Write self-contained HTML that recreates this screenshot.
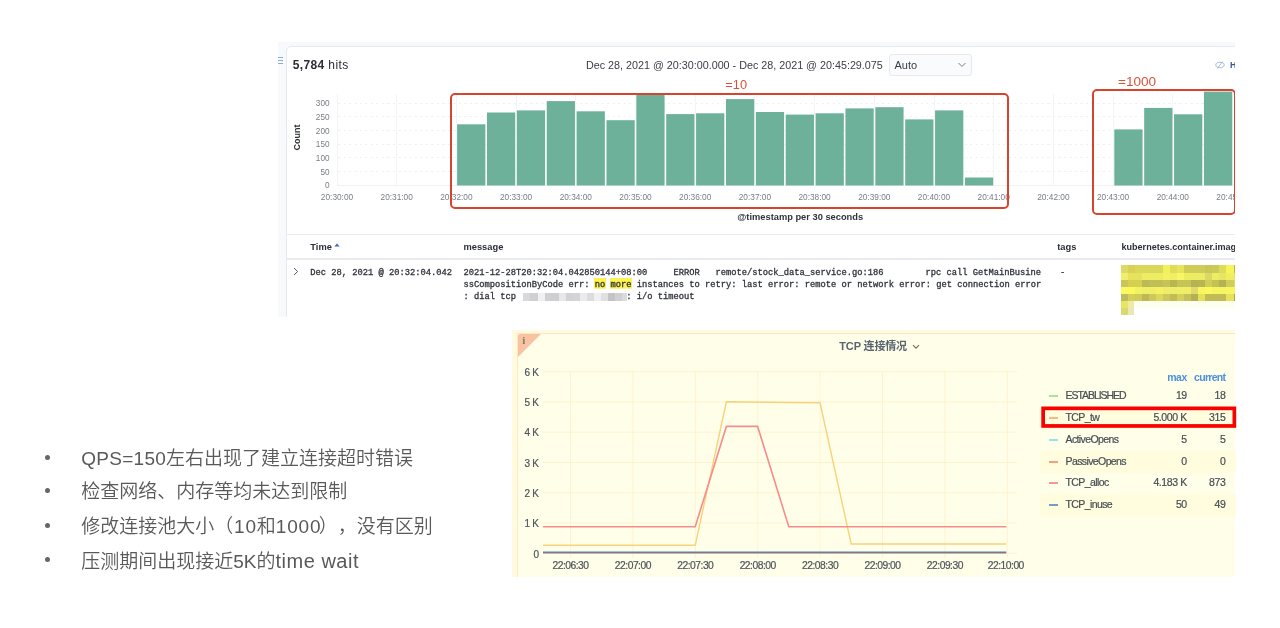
<!DOCTYPE html>
<html lang="zh"><head><meta charset="utf-8"><title>slide</title>
<style>
html,body{margin:0;padding:0;background:#fff;}
body{width:1280px;height:628px;position:relative;overflow:hidden;font-family:"Liberation Sans","Noto Sans CJK SC",sans-serif;}
.a{position:absolute;white-space:pre;line-height:1;}
#kib{position:absolute;left:278px;top:42px;width:957px;height:275px;background:#f8f9fc;overflow:hidden;}
#kp{position:absolute;left:8px;top:4px;width:960px;height:188px;background:#fff;border:1px solid #e6e9f0;border-radius:5px 0 0 0;}
#kt{position:absolute;left:8px;top:192px;width:960px;height:90px;background:#fff;border:1px solid #e6e9f0;border-top:1px solid #e8ebf1;}
.k{position:absolute;white-space:pre;line-height:1;color:#343741;}
.yl{position:absolute;white-space:pre;line-height:1;color:#787d87;font-size:8.2px;width:30px;text-align:right;}
.xl{position:absolute;white-space:pre;line-height:1;color:#787d87;font-size:8.3px;width:40px;text-align:center;}
.bar{position:absolute;background:#6db19a;}
.hg{position:absolute;height:1px;background:repeating-linear-gradient(90deg,#f0f1f5 0 2px,transparent 2px 5.5px);}
.vg{position:absolute;width:1px;background:#f3f4f7;}
.mono{position:absolute;white-space:pre;line-height:1;font-family:"Liberation Mono",monospace;font-size:8.752px;color:#30333b;-webkit-text-stroke:0.3px #30333b;}
.hl{padding:2px 0.4px 0;margin:0 -0.4px;background:linear-gradient(#fcf250,#fcf250) no-repeat;background-size:100% calc(100% - 1.3px);}
.th{position:absolute;white-space:pre;line-height:1;font-weight:bold;font-size:9.3px;color:#2c2f38;}
.rb{position:absolute;border:2.5px solid #d8432c;border-radius:5px;box-sizing:border-box;}
.rt{position:absolute;white-space:pre;line-height:1;color:#d9533b;}
#gra{position:absolute;left:512.3px;top:330.3px;width:723px;height:247.2px;background:#fffae0;overflow:hidden;}
#gp{position:absolute;left:5px;top:3px;width:730px;height:250px;background:#fffee8;border:1px solid #fde9c0;}
.g{position:absolute;white-space:pre;line-height:1;color:#5d646b;}
.gy{position:absolute;white-space:pre;line-height:1;color:#4d545b;-webkit-text-stroke:0.2px #4d545b;font-size:10px;width:30px;text-align:right;letter-spacing:-0.2px;}
.gx{position:absolute;white-space:pre;line-height:1;color:#4d545b;-webkit-text-stroke:0.2px #4d545b;font-size:10.3px;width:50px;text-align:center;letter-spacing:-0.5px;}
.lr{position:absolute;left:527px;width:196px;height:22px;}
.lr.alt{background:#fffddd;}
.ls{position:absolute;left:9px;top:10px;width:9px;height:2px;opacity:0.8;}
.ln{position:absolute;left:26px;top:5px;white-space:pre;line-height:1;font-size:10.5px;color:#474e55;-webkit-text-stroke:0.2px #474e55;letter-spacing:-0.6px;}
.lv{position:absolute;top:5px;white-space:pre;line-height:1;font-size:10.5px;color:#474e55;-webkit-text-stroke:0.2px #474e55;text-align:right;letter-spacing:-0.4px;}
.bl{position:absolute;white-space:pre;line-height:1;color:#595959;font-size:19px;font-weight:350;text-spacing-trim:space-all;font-kerning:none;}
.bl i{font-style:normal;}
.dot{position:absolute;width:5px;height:5px;border-radius:50%;background:#666;}
</style></head><body>

<div id="kib"><div id="kp"></div><div id="kt"></div></div>
<svg class="a" style="left:278px;top:57px" width="5" height="8" viewBox="0 0 5 8"><path d="M0 .5h5M0 3.5h5M0 6.5h5" stroke="#8ab0cc" stroke-width="1"/></svg>
<div class="k" style="left:292.7px;top:59px;font-size:12px;letter-spacing:0.38px;color:#2b2e36"><b>5,784</b> hits</div>
<div class="k" style="left:586px;top:59.6px;font-size:10.75px;color:#3a3d46">Dec 28, 2021 @ 20:30:00.000 - Dec 28, 2021 @ 20:45:29.075</div>
<div class="a" style="left:889px;top:53.5px;width:83px;height:22px;box-sizing:border-box;background:#fafbfd;border:1px solid #e6e9f0;border-radius:3px"></div>
<div class="k" style="left:894.5px;top:59.5px;font-size:11px;color:#3a3d46">Auto</div>
<svg class="a" style="left:957px;top:62px" width="10" height="6" viewBox="0 0 10 6"><path d="M1.5 1 L5 4.5 L8.5 1" fill="none" stroke="#6a6f7a" stroke-width="0.9"/></svg>
<svg class="a" style="left:1215px;top:60px" width="11" height="10" viewBox="0 0 11 10"><ellipse cx="5" cy="5" rx="4.2" ry="2.7" fill="none" stroke="#9db4d8" stroke-width="0.9"/><path d="M2.2 8.6 L7.8 1.4" stroke="#9db4d8" stroke-width="0.9"/></svg>
<div class="k" style="left:1230px;top:60.6px;font-size:8.8px;font-weight:bold;color:#2a5ba8;width:5px;overflow:hidden">Hide chart</div>
<div class="yl" style="left:299.5px;top:182.2px">0</div>
<div class="yl" style="left:299.5px;top:168.5px">50</div>
<div class="hg" style="left:338px;top:171.1px;width:897px"></div>
<div class="yl" style="left:299.5px;top:154.8px">100</div>
<div class="hg" style="left:338px;top:157.4px;width:897px"></div>
<div class="yl" style="left:299.5px;top:141.1px">150</div>
<div class="hg" style="left:338px;top:143.7px;width:897px"></div>
<div class="yl" style="left:299.5px;top:127.5px">200</div>
<div class="hg" style="left:338px;top:130.1px;width:897px"></div>
<div class="yl" style="left:299.5px;top:113.8px">250</div>
<div class="hg" style="left:338px;top:116.4px;width:897px"></div>
<div class="yl" style="left:299.5px;top:100.1px">300</div>
<div class="hg" style="left:338px;top:102.7px;width:897px"></div>
<div class="vg" style="left:336.5px;top:94px;height:91.3px"></div>
<div class="xl" style="left:317.0px;top:193px">20:30:00</div>
<div class="vg" style="left:396.2px;top:94px;height:91.3px"></div>
<div class="xl" style="left:376.7px;top:193px">20:31:00</div>
<div class="vg" style="left:455.9px;top:94px;height:91.3px"></div>
<div class="xl" style="left:436.4px;top:193px">20:32:00</div>
<div class="vg" style="left:515.6px;top:94px;height:91.3px"></div>
<div class="xl" style="left:496.1px;top:193px">20:33:00</div>
<div class="vg" style="left:575.3px;top:94px;height:91.3px"></div>
<div class="xl" style="left:555.8px;top:193px">20:34:00</div>
<div class="vg" style="left:635.0px;top:94px;height:91.3px"></div>
<div class="xl" style="left:615.5px;top:193px">20:35:00</div>
<div class="vg" style="left:694.7px;top:94px;height:91.3px"></div>
<div class="xl" style="left:675.2px;top:193px">20:36:00</div>
<div class="vg" style="left:754.4px;top:94px;height:91.3px"></div>
<div class="xl" style="left:734.9px;top:193px">20:37:00</div>
<div class="vg" style="left:814.1px;top:94px;height:91.3px"></div>
<div class="xl" style="left:794.6px;top:193px">20:38:00</div>
<div class="vg" style="left:873.8px;top:94px;height:91.3px"></div>
<div class="xl" style="left:854.3px;top:193px">20:39:00</div>
<div class="vg" style="left:933.5px;top:94px;height:91.3px"></div>
<div class="xl" style="left:914.0px;top:193px">20:40:00</div>
<div class="vg" style="left:993.2px;top:94px;height:91.3px"></div>
<div class="xl" style="left:973.7px;top:193px">20:41:00</div>
<div class="vg" style="left:1052.9px;top:94px;height:91.3px"></div>
<div class="xl" style="left:1033.4px;top:193px">20:42:00</div>
<div class="vg" style="left:1112.6px;top:94px;height:91.3px"></div>
<div class="xl" style="left:1093.1px;top:193px">20:43:00</div>
<div class="vg" style="left:1172.3px;top:94px;height:91.3px"></div>
<div class="xl" style="left:1152.8px;top:193px">20:44:00</div>
<div class="vg" style="left:1232.0px;top:94px;height:91.3px"></div>
<div class="xl" style="left:1212.5px;top:193px">20:45:00</div>
<div class="a" style="left:337px;top:185.0px;width:898px;height:1px;background:#f0f1f5"></div>
<div class="k" style="left:281.5px;top:132.5px;width:30px;text-align:center;font-size:9px;font-weight:bold;color:#30333b;transform:rotate(-90deg);transform-origin:50% 50%">Count</div>
<svg class="a" style="left:0;top:0" width="1280" height="320" viewBox="0 0 1280 320"><rect x="457.10" y="124.3" width="28.25" height="61.2" fill="#6db19a"/><rect x="486.97" y="112.5" width="28.25" height="73.0" fill="#6db19a"/><rect x="516.85" y="110.4" width="28.25" height="75.1" fill="#6db19a"/><rect x="546.72" y="101.1" width="28.25" height="84.4" fill="#6db19a"/><rect x="576.59" y="111.3" width="28.25" height="74.2" fill="#6db19a"/><rect x="606.47" y="120.2" width="28.25" height="65.3" fill="#6db19a"/><rect x="636.34" y="95.0" width="28.25" height="90.5" fill="#6db19a"/><rect x="666.21" y="114.1" width="28.25" height="71.4" fill="#6db19a"/><rect x="696.08" y="113.3" width="28.25" height="72.2" fill="#6db19a"/><rect x="725.96" y="99.1" width="28.25" height="86.4" fill="#6db19a"/><rect x="755.83" y="112.0" width="28.25" height="73.5" fill="#6db19a"/><rect x="785.70" y="114.6" width="28.25" height="70.9" fill="#6db19a"/><rect x="815.58" y="113.3" width="28.25" height="72.2" fill="#6db19a"/><rect x="845.45" y="108.4" width="28.25" height="77.1" fill="#6db19a"/><rect x="875.32" y="107.2" width="28.25" height="78.3" fill="#6db19a"/><rect x="905.20" y="119.4" width="28.25" height="66.1" fill="#6db19a"/><rect x="935.07" y="110.4" width="28.25" height="75.1" fill="#6db19a"/><rect x="964.94" y="177.5" width="28.25" height="8.0" fill="#6db19a"/><rect x="1114.31" y="129.4" width="28.25" height="56.1" fill="#6db19a"/><rect x="1144.18" y="107.9" width="28.25" height="77.6" fill="#6db19a"/><rect x="1174.05" y="114.3" width="28.25" height="71.2" fill="#6db19a"/><rect x="1203.93" y="91.6" width="28.25" height="93.9" fill="#6db19a"/></svg>
<div class="k" style="left:737.3px;top:212.6px;font-size:9.3px;font-weight:bold;color:#30333b">@timestamp per 30 seconds</div>
<div class="rb" style="left:450px;top:93px;width:558.5px;height:116.3px"></div>
<div class="rb" style="left:1091.5px;top:88.8px;width:144px;height:126.4px"></div>
<div class="rt" style="left:725.3px;top:79.4px;font-size:12.8px">=10</div>
<div class="rt" style="left:1118px;top:74.8px;font-size:13.6px">=1000</div>
<div class="a" style="left:287px;top:258.3px;width:948px;height:1.4px;background:#e9ebf1"></div>
<div class="th" style="left:310.3px;top:243.1px">Time</div>
<svg class="a" style="left:334px;top:243px" width="6" height="4" viewBox="0 0 6 4"><path d="M0.3 3.6 L3 0.4 L5.7 3.6 Z" fill="#3b6cb0"/></svg>
<div class="th" style="left:463.5px;top:243.1px">message</div>
<div class="th" style="left:1057.2px;top:243.1px">tags</div>
<div class="th" style="left:1121.5px;top:243.1px;width:113.5px;overflow:hidden;font-size:9.05px">kubernetes.container.image</div>
<svg class="a" style="left:292.7px;top:267.2px" width="6" height="9" viewBox="0 0 6 9"><path d="M1 1 L4.6 4.5 L1 8" fill="none" stroke="#555a66" stroke-width="1"/></svg>
<div class="mono" style="left:310.3px;top:268.9px">Dec 28, 2021 @ 20:32:04.042</div>
<div class="mono" style="left:463.5px;top:268.9px">2021-12-28T20:32:04.042850144+08:00     ERROR   remote/stock_data_service.go:186        rpc call GetMainBusine</div>
<div class="mono" style="left:463.5px;top:281.2px">ssCompositionByCode err: <span class="hl">no</span> <span class="hl">more</span> instances to retry: last error: remote or network error: get connection error</div>
<div class="mono" style="left:463.5px;top:293.4px">: dial tcp                     : i/o timeout</div>
<div class="mono" style="left:1060px;top:268.9px">-</div>
<div class="a" style="left:523.4px;top:293.4px;width:7.3px;height:7.6px;background:#d8d8da"></div>
<div class="a" style="left:530.4px;top:293.4px;width:7.3px;height:7.6px;background:#d0d0d3"></div>
<div class="a" style="left:537.5px;top:293.4px;width:7.3px;height:7.6px;background:#f0f0f1"></div>
<div class="a" style="left:544.5px;top:293.4px;width:7.3px;height:7.6px;background:#d0d0d2"></div>
<div class="a" style="left:551.5px;top:293.4px;width:7.3px;height:7.6px;background:#cfcfd2"></div>
<div class="a" style="left:558.5px;top:293.4px;width:7.3px;height:7.6px;background:#e8e8ea"></div>
<div class="a" style="left:565.6px;top:293.4px;width:7.3px;height:7.6px;background:#d2d2d5"></div>
<div class="a" style="left:572.6px;top:293.4px;width:7.3px;height:7.6px;background:#d4d4d6"></div>
<div class="a" style="left:579.6px;top:293.4px;width:7.3px;height:7.6px;background:#ebebed"></div>
<div class="a" style="left:586.7px;top:293.4px;width:7.3px;height:7.6px;background:#dcdcde"></div>
<div class="a" style="left:593.7px;top:293.4px;width:7.3px;height:7.6px;background:#f0f0f0"></div>
<div class="a" style="left:600.7px;top:293.4px;width:7.3px;height:7.6px;background:#e0e0e2"></div>
<div class="a" style="left:607.8px;top:293.4px;width:7.3px;height:7.6px;background:#c4c4c8"></div>
<div class="a" style="left:614.8px;top:293.4px;width:7.3px;height:7.6px;background:#d0d0d3"></div>
<div class="a" style="left:621.8px;top:293.4px;width:5px;height:7.6px;background:#dadadc"></div>
<svg class="a" style="left:1115px;top:260px" width="120" height="60" viewBox="1115 260 120 60" shape-rendering="crispEdges"><rect x="1121.40" y="265.10" width="6.60" height="8.10" fill="#dfd968"/><rect x="1127.60" y="265.10" width="7.46" height="8.10" fill="#d6d254"/><rect x="1134.66" y="265.10" width="7.46" height="8.10" fill="#dad858"/><rect x="1141.72" y="265.10" width="7.46" height="8.10" fill="#dad858"/><rect x="1148.78" y="265.10" width="7.46" height="8.10" fill="#dad858"/><rect x="1155.84" y="265.10" width="7.46" height="8.10" fill="#dad858"/><rect x="1162.90" y="265.10" width="7.46" height="8.10" fill="#f3f15a"/><rect x="1169.96" y="265.10" width="7.46" height="8.10" fill="#dedc58"/><rect x="1177.02" y="265.10" width="7.46" height="8.10" fill="#e8e658"/><rect x="1184.08" y="265.10" width="7.46" height="8.10" fill="#cfcd58"/><rect x="1191.14" y="265.10" width="7.46" height="8.10" fill="#cfcd58"/><rect x="1198.20" y="265.10" width="7.46" height="8.10" fill="#cfcd58"/><rect x="1205.26" y="265.10" width="7.46" height="8.10" fill="#c9c758"/><rect x="1212.32" y="265.10" width="7.46" height="8.10" fill="#cccb58"/><rect x="1219.38" y="265.10" width="7.46" height="8.10" fill="#dedc5a"/><rect x="1226.44" y="265.10" width="7.46" height="8.10" fill="#f6f456"/><rect x="1233.50" y="265.10" width="1.90" height="8.10" fill="#c0b840"/><rect x="1121.40" y="272.80" width="6.60" height="7.80" fill="#f0ee6a"/><rect x="1127.60" y="272.80" width="7.46" height="7.80" fill="#e4e25e"/><rect x="1134.66" y="272.80" width="7.46" height="7.80" fill="#e4e25e"/><rect x="1141.72" y="272.80" width="7.46" height="7.80" fill="#eeec64"/><rect x="1148.78" y="272.80" width="7.46" height="7.80" fill="#eeec64"/><rect x="1155.84" y="272.80" width="7.46" height="7.80" fill="#eeec64"/><rect x="1162.90" y="272.80" width="7.46" height="7.80" fill="#f4f264"/><rect x="1169.96" y="272.80" width="7.46" height="7.80" fill="#f0ee66"/><rect x="1177.02" y="272.80" width="7.46" height="7.80" fill="#f8f666"/><rect x="1184.08" y="272.80" width="7.46" height="7.80" fill="#eceb62"/><rect x="1191.14" y="272.80" width="7.46" height="7.80" fill="#eceb62"/><rect x="1198.20" y="272.80" width="7.46" height="7.80" fill="#eceb62"/><rect x="1205.26" y="272.80" width="7.46" height="7.80" fill="#dcd868"/><rect x="1212.32" y="272.80" width="7.46" height="7.80" fill="#eeec62"/><rect x="1219.38" y="272.80" width="7.46" height="7.80" fill="#e8e660"/><rect x="1226.44" y="272.80" width="7.46" height="7.80" fill="#f0ee60"/><rect x="1233.50" y="272.80" width="1.90" height="7.80" fill="#e8e25a"/><rect x="1121.40" y="280.20" width="6.60" height="7.30" fill="#c8c460"/><rect x="1127.60" y="280.20" width="7.46" height="7.30" fill="#d4d050"/><rect x="1134.66" y="280.20" width="7.46" height="7.30" fill="#d4d050"/><rect x="1141.72" y="280.20" width="7.46" height="7.30" fill="#bcba54"/><rect x="1148.78" y="280.20" width="7.46" height="7.30" fill="#c0be56"/><rect x="1155.84" y="280.20" width="7.46" height="7.30" fill="#c0be56"/><rect x="1162.90" y="280.20" width="7.46" height="7.30" fill="#c6c458"/><rect x="1169.96" y="280.20" width="7.46" height="7.30" fill="#b8b650"/><rect x="1177.02" y="280.20" width="7.46" height="7.30" fill="#c6c456"/><rect x="1184.08" y="280.20" width="7.46" height="7.30" fill="#c6c456"/><rect x="1191.14" y="280.20" width="7.46" height="7.30" fill="#b4b252"/><rect x="1198.20" y="280.20" width="7.46" height="7.30" fill="#b8b654"/><rect x="1205.26" y="280.20" width="7.46" height="7.30" fill="#d0ce56"/><rect x="1212.32" y="280.20" width="7.46" height="7.30" fill="#c4c254"/><rect x="1219.38" y="280.20" width="7.46" height="7.30" fill="#b4b256"/><rect x="1226.44" y="280.20" width="7.46" height="7.30" fill="#d0ce58"/><rect x="1233.50" y="280.20" width="1.90" height="7.30" fill="#e0dc50"/><rect x="1121.40" y="287.10" width="6.60" height="7.30" fill="#fbf960"/><rect x="1127.60" y="287.10" width="7.46" height="7.30" fill="#fbf95c"/><rect x="1134.66" y="287.10" width="7.46" height="7.30" fill="#f2f066"/><rect x="1141.72" y="287.10" width="7.46" height="7.30" fill="#f0ee66"/><rect x="1148.78" y="287.10" width="7.46" height="7.30" fill="#f0ee66"/><rect x="1155.84" y="287.10" width="7.46" height="7.30" fill="#f4f264"/><rect x="1162.90" y="287.10" width="7.46" height="7.30" fill="#eeec68"/><rect x="1169.96" y="287.10" width="7.46" height="7.30" fill="#eeec68"/><rect x="1177.02" y="287.10" width="7.46" height="7.30" fill="#f0ee68"/><rect x="1184.08" y="287.10" width="7.46" height="7.30" fill="#f0ee68"/><rect x="1191.14" y="287.10" width="7.46" height="7.30" fill="#e0da68"/><rect x="1198.20" y="287.10" width="7.46" height="7.30" fill="#f8f65e"/><rect x="1205.26" y="287.10" width="7.46" height="7.30" fill="#faf85c"/><rect x="1212.32" y="287.10" width="7.46" height="7.30" fill="#f6f460"/><rect x="1219.38" y="287.10" width="7.46" height="7.30" fill="#f6f460"/><rect x="1226.44" y="287.10" width="7.46" height="7.30" fill="#f8f660"/><rect x="1233.50" y="287.10" width="1.90" height="7.30" fill="#f8f45c"/><rect x="1121.40" y="294.00" width="6.60" height="7.50" fill="#beba62"/><rect x="1127.60" y="294.00" width="7.46" height="7.50" fill="#d4d056"/><rect x="1134.66" y="294.00" width="7.46" height="7.50" fill="#d0cc5a"/><rect x="1141.72" y="294.00" width="7.46" height="7.50" fill="#bcb858"/><rect x="1148.78" y="294.00" width="7.46" height="7.50" fill="#ccc85c"/><rect x="1155.84" y="294.00" width="7.46" height="7.50" fill="#dcd85a"/><rect x="1162.90" y="294.00" width="7.46" height="7.50" fill="#ccc85c"/><rect x="1169.96" y="294.00" width="7.46" height="7.50" fill="#c0bc56"/><rect x="1177.02" y="294.00" width="7.46" height="7.50" fill="#d4d05c"/><rect x="1184.08" y="294.00" width="7.46" height="7.50" fill="#c4c05a"/><rect x="1191.14" y="294.00" width="7.46" height="7.50" fill="#b4b058"/><rect x="1198.20" y="294.00" width="7.46" height="7.50" fill="#e4e058"/><rect x="1205.26" y="294.00" width="7.46" height="7.50" fill="#c0bc58"/><rect x="1212.32" y="294.00" width="7.46" height="7.50" fill="#c0bc58"/><rect x="1219.38" y="294.00" width="7.46" height="7.50" fill="#c0bc58"/><rect x="1226.44" y="294.00" width="7.46" height="7.50" fill="#e6e25c"/><rect x="1233.50" y="294.00" width="1.90" height="7.50" fill="#b0a838"/><rect x="1121.4" y="301.1" width="6.2" height="6.9" fill="#e8e660"/><rect x="1127.6" y="301.1" width="6.6" height="6.9" fill="#ecebaa"/><rect x="1121.4" y="308" width="6.2" height="6.8" fill="#dcd870"/><rect x="1127.6" y="308" width="6.6" height="6.8" fill="#eae8b2"/><rect x="1134.2" y="301.1" width="100.8" height="6.6" fill="#fdfdf0"/></svg>
<div class="a" style="left:1235px;top:30px;width:45px;height:300px;background:#fff"></div>
<div id="gra"><div id="gp"></div></div>
<svg class="a" style="left:517.5px;top:333.5px" width="24" height="24" viewBox="0 0 24 24"><path d="M0 2 Q0 0 2 0 L23 0 L0 23 Z" fill="#f9c3a3"/></svg>
<div class="a" style="left:522.3px;top:335.3px;font-family:'Liberation Serif',serif;font-weight:bold;font-size:11px;color:#857a6c">i</div>
<div class="g" style="left:839.3px;top:341.2px;font-size:11px;font-weight:bold;color:#5a646e;letter-spacing:-0.15px;font-family:'Liberation Sans','Noto Sans CJK SC',sans-serif">TCP 连接情况</div>
<svg class="a" style="left:911.5px;top:344.2px" width="8" height="6" viewBox="0 0 8 6"><path d="M1 1.2 L4 4.2 L7 1.2" fill="none" stroke="#7d6e60" stroke-width="1.2"/></svg>
<svg class="a" style="left:0;top:0" width="1280" height="628" viewBox="0 0 1280 628"><path d="M543 553.3H1017" stroke="#fef3d0" stroke-width="1"/><path d="M543 523.0H1017" stroke="#fef3d0" stroke-width="1"/><path d="M543 492.8H1017" stroke="#fef3d0" stroke-width="1"/><path d="M543 462.5H1017" stroke="#fef3d0" stroke-width="1"/><path d="M543 432.2H1017" stroke="#fef3d0" stroke-width="1"/><path d="M543 401.9H1017" stroke="#fef3d0" stroke-width="1"/><path d="M543 371.7H1017" stroke="#fef3d0" stroke-width="1"/><path d="M570.5 371V558" stroke="#fef3d0" stroke-width="1"/><path d="M632.9 371V558" stroke="#fef3d0" stroke-width="1"/><path d="M695.3 371V558" stroke="#fef3d0" stroke-width="1"/><path d="M757.7 371V558" stroke="#fef3d0" stroke-width="1"/><path d="M820.1 371V558" stroke="#fef3d0" stroke-width="1"/><path d="M882.5 371V558" stroke="#fef3d0" stroke-width="1"/><path d="M944.9 371V558" stroke="#fef3d0" stroke-width="1"/><path d="M1007.3 371V558" stroke="#fef3d0" stroke-width="1"/><path d="M543 545.2 L695.2 545.3 L726.4 401.8 L820 402.8 L851.2 544 L1006.3 544" fill="none" stroke="#f7d27c" stroke-width="1.4"/><path d="M543 526.8 L695.2 526.8 L726.4 426.4 L757.6 426.4 L788.8 526.8 L1006.3 526.8" fill="none" stroke="#f58d8d" stroke-width="1.6"/><path d="M543 553.4 H1006.3" fill="none" stroke="#f3a877" stroke-width="1.2"/><path d="M543 552.3 H1006.3" fill="none" stroke="#4f86c2" stroke-width="1.5"/></svg>
<div class="gy" style="left:508.8px;top:549.5px">0</div>
<div class="gy" style="left:508.8px;top:519.2px">1 K</div>
<div class="gy" style="left:508.8px;top:489.0px">2 K</div>
<div class="gy" style="left:508.8px;top:458.7px">3 K</div>
<div class="gy" style="left:508.8px;top:428.4px">4 K</div>
<div class="gy" style="left:508.8px;top:398.1px">5 K</div>
<div class="gy" style="left:508.8px;top:367.9px">6 K</div>
<div class="gx" style="left:545.5px;top:561px">22:06:30</div>
<div class="gx" style="left:607.9px;top:561px">22:07:00</div>
<div class="gx" style="left:670.3px;top:561px">22:07:30</div>
<div class="gx" style="left:732.7px;top:561px">22:08:00</div>
<div class="gx" style="left:795.1px;top:561px">22:08:30</div>
<div class="gx" style="left:857.5px;top:561px">22:09:00</div>
<div class="gx" style="left:919.9px;top:561px">22:09:30</div>
<div class="gx" style="left:980.8px;top:561px">22:10:00</div>
<div class="g" style="left:1140px;top:371.5px;width:46.8px;text-align:right;font-size:10.5px;font-weight:bold;color:#4f8fe0;letter-spacing:-0.5px">max</div>
<div class="g" style="left:1180px;top:371.5px;width:45.4px;text-align:right;font-size:10.5px;font-weight:bold;color:#4f8fe0;letter-spacing:-0.7px">current</div>
<div class="lr" style="left:1039.5px;top:385.4px"><div class="ls" style="background:#93df7e"></div><div class="ln" style="letter-spacing:-1.05px">ESTABLISHED</div><div class="lv" style="left:87.3px;width:60px">19</div><div class="lv" style="left:135.9px;width:50px">18</div></div>
<div class="lr alt" style="left:1039.5px;top:407.1px"><div class="ls" style="background:#f5a673"></div><div class="ln">TCP_tw</div><div class="lv" style="left:87.3px;width:60px">5.000 K</div><div class="lv" style="left:135.9px;width:50px">315</div></div>
<div class="lr" style="left:1039.5px;top:428.8px"><div class="ls" style="background:#7fdcf5"></div><div class="ln">ActiveOpens</div><div class="lv" style="left:87.3px;width:60px">5</div><div class="lv" style="left:135.9px;width:50px">5</div></div>
<div class="lr alt" style="left:1039.5px;top:450.5px"><div class="ls" style="background:#f0876a"></div><div class="ln">PassiveOpens</div><div class="lv" style="left:87.3px;width:60px">0</div><div class="lv" style="left:135.9px;width:50px">0</div></div>
<div class="lr" style="left:1039.5px;top:472.2px"><div class="ls" style="background:#f57a88"></div><div class="ln">TCP_alloc</div><div class="lv" style="left:87.3px;width:60px">4.183 K</div><div class="lv" style="left:135.9px;width:50px">873</div></div>
<div class="lr alt" style="left:1039.5px;top:493.9px"><div class="ls" style="background:#5285c5"></div><div class="ln">TCP_inuse</div><div class="lv" style="left:87.3px;width:60px">50</div><div class="lv" style="left:135.9px;width:50px">49</div></div>
<svg class="a" style="left:1030px;top:400px" width="215" height="35" viewBox="1030 400 215 35"><rect x="1043.15" y="408.35" width="191.2" height="17.6" fill="none" stroke="#fb0000" stroke-width="3.7"/></svg>
<div class="a" style="left:1237px;top:320px;width:43px;height:300px;background:#fff"></div>
<div class="dot" style="left:45.3px;top:455.3px"></div>
<div class="bl" style="left:81.3px;top:449.3px"><i style="letter-spacing:0.27px">QPS=150</i>左右出现了建立连接超时错误</div>
<div class="dot" style="left:45.3px;top:488.3px"></div>
<div class="bl" style="left:81.3px;top:482.3px">检查网络、内存等均未达到限制</div>
<div class="dot" style="left:45.3px;top:522.8px"></div>
<div class="bl" style="left:81.3px;top:516.8px">修改连接池大小（<i style="letter-spacing:0.75px;margin-left:0.8px">10</i>和<i style="letter-spacing:0.85px;margin-right:-2.6px">1000</i>），没有区别</div>
<div class="dot" style="left:45.3px;top:557.4px"></div>
<div class="bl" style="left:81.3px;top:551.4px">压测期间出现接近5K的<i style="font-size:20px;letter-spacing:0.5px">time wait</i></div>
</body></html>
